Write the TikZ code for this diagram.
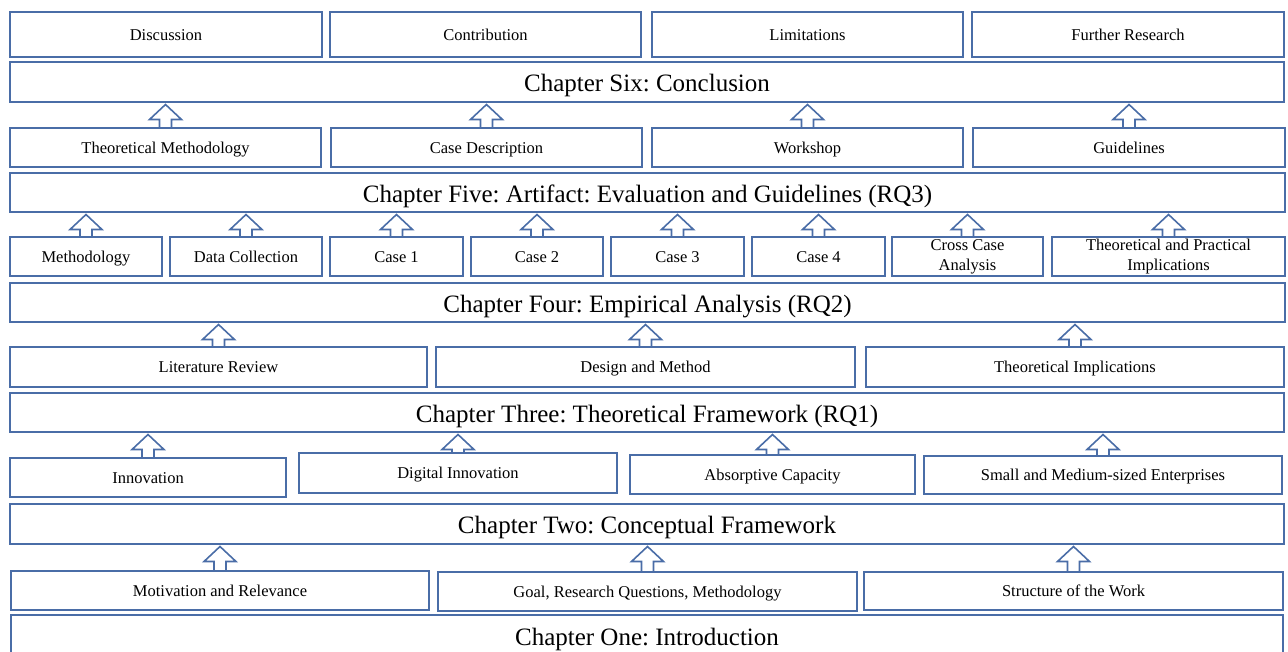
\documentclass[tikz,border=0pt]{standalone}
\usepackage{fontspec}
\setmainfont{Liberation Serif}
\usetikzlibrary{calc}
\definecolor{frame}{HTML}{4A6DA7}
\frenchspacing

% box placed by its corners: name, style, x1, y1, x2, y2, text
\newcommand\bx[7]{%
  \pgfmathsetmacro\bw{#5-#3}\pgfmathsetmacro\bh{#6-#4}%
  \node[#2, minimum width=\bw pt, minimum height=\bh pt, anchor=north west] (#1) at (#3,#4) {#7};}

% hollow block arrow from the top of a box up to the chapter above it
\newcommand\blockup[2]{%
  \draw[liftarrow] let \p1=(#1.north), \p2=(#2.south) in
    (\x1-6pt,\y1) -- (\x1-6pt,\y2-17.5pt) -- (\x1-16pt,\y2-17.5pt) -- (\x1,\y2-2.5pt)
    -- (\x1+16pt,\y2-17.5pt) -- (\x1+6pt,\y2-17.5pt) -- (\x1+6pt,\y1);}

\begin{document}
\begin{tikzpicture}[x=1pt,y=-1pt,
  framed/.style={draw=frame, line width=1.6pt, fill=white, inner sep=0pt, outer sep=0pt},
  secbox/.style={framed, font=\fontsize{16.5}{20}\selectfont, text height=12pt, text depth=0.4pt},
  twoline/.style={framed, align=center, font=\fontsize{16.5}{20}\selectfont},
  chapbox/.style={framed, font=\fontsize{25}{30}\selectfont, text height=20pt, text depth=1pt},
  liftarrow/.style={draw=frame, line width=1.6pt, line join=miter}]
\useasboundingbox (0,0) rectangle (1288,651);
\clip (0,0) rectangle (1288,651);

% Chapter Six
\bx{disc}{secbox}{10}{12}{322}{57}{Discussion}
\bx{contr}{secbox}{330}{12}{641}{57}{Contribution}
\bx{limit}{secbox}{652}{12}{963}{57}{Limitations}
\bx{further}{secbox}{972}{12}{1284}{57}{Further Research}
\bx{ch6}{chapbox}{10}{62}{1284}{102}{Chapter Six: Conclusion}

% Chapter Five
\bx{theometh}{secbox}{10}{128}{321}{167}{Theoretical Methodology}
\bx{casedesc}{secbox}{331}{128}{642}{167}{Case Description}
\bx{workshop}{secbox}{652}{128}{963}{167}{Workshop}
\bx{guide}{secbox}{973}{128}{1285}{167}{Guidelines}
\bx{ch5}{chapbox}{10}{173}{1285}{212}{Chapter Five: Artifact: Evaluation and Guidelines (RQ3)}

% Chapter Four
\bx{meth}{secbox}{10}{237}{162}{276}{Methodology}
\bx{datacol}{secbox}{170}{237}{322}{276}{Data Collection}
\bx{caseone}{secbox}{330}{237}{463}{276}{Case 1}
\bx{casetwo}{secbox}{471}{237}{603}{276}{Case 2}
\bx{casethree}{secbox}{611}{237}{744}{276}{Case 3}
\bx{casefour}{secbox}{752}{237}{885}{276}{Case 4}
\bx{cross}{twoline}{892}{237}{1043}{276}{Cross Case\\Analysis}
\bx{theoprac}{twoline}{1052}{237}{1285}{276}{Theoretical and Practical\\Implications}
\bx{ch4}{chapbox}{10}{283}{1285}{322}{Chapter Four: Empirical Analysis (RQ2)}

% Chapter Three
\bx{litrev}{secbox}{10}{347}{427}{387}{Literature Review}
\bx{design}{secbox}{436}{347}{855}{387}{Design and Method}
\bx{theoimp}{secbox}{866}{347}{1284}{387}{Theoretical Implications}
\bx{ch3}{chapbox}{10}{393}{1284}{432}{Chapter Three: Theoretical Framework (RQ1)}

% Chapter Two
\bx{innov}{secbox}{10}{458}{286}{497}{Innovation}
\bx{diginnov}{secbox}{299}{453}{617}{493}{Digital Innovation}
\bx{absorb}{secbox}{630}{455}{915}{494}{Absorptive Capacity}
\bx{sme}{secbox}{924}{456}{1282}{494}{Small and Medium-sized Enterprises}
\bx{ch2}{chapbox}{10}{504}{1284}{544}{Chapter Two: Conceptual Framework}

% Chapter One
\bx{motiv}{secbox}{11}{571}{429}{610}{Motivation and Relevance}
\bx{goal}{secbox}{438}{572}{857}{611}{Goal, Research Questions, Methodology}
\bx{struct}{secbox}{864}{572}{1283}{610}{Structure of the Work}
\bx{ch1}{chapbox}{11}{615}{1283}{656}{Chapter One: Introduction}

% arrows leading up to each chapter
\foreach \b in {theometh,casedesc,workshop,guide} {\blockup{\b}{ch6}}
\foreach \b in {meth,datacol,caseone,casetwo,casethree,casefour,cross,theoprac} {\blockup{\b}{ch5}}
\foreach \b in {litrev,design,theoimp} {\blockup{\b}{ch4}}
\foreach \b in {innov,diginnov,absorb,sme} {\blockup{\b}{ch3}}
\foreach \b in {motiv,goal,struct} {\blockup{\b}{ch2}}
\end{tikzpicture}
\end{document}
